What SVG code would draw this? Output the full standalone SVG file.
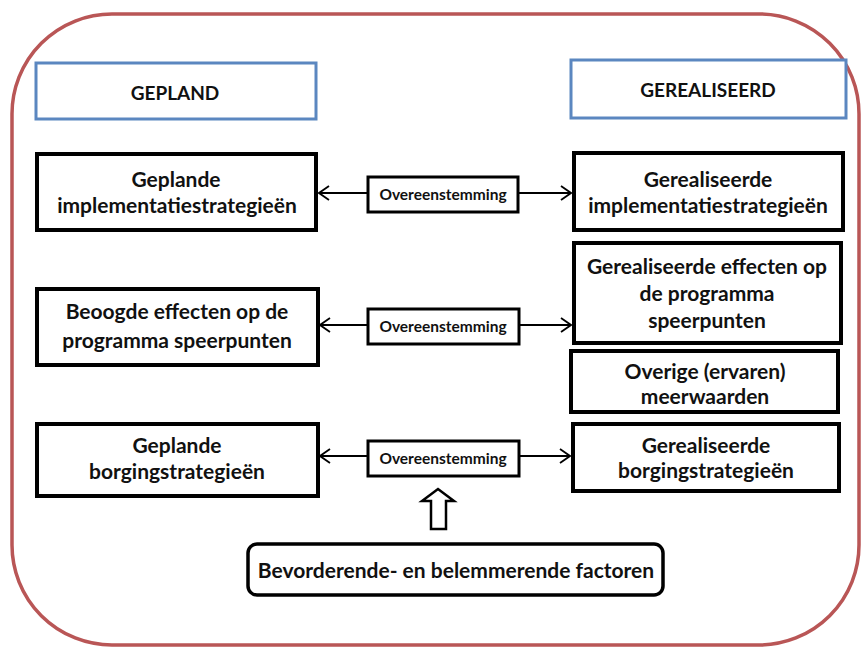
<svg xmlns="http://www.w3.org/2000/svg" width="861" height="648" viewBox="0 0 861 648">
<defs>
<marker id="chev" viewBox="0 0 12 16" refX="11" refY="8" markerWidth="12" markerHeight="16" markerUnits="userSpaceOnUse" orient="auto">
<path d="M1,1 L11,8 L1,15" fill="none" stroke="#000" stroke-width="1.8"/>
</marker>
<style>
.frame{fill:#fff;stroke:#b95656;stroke-width:3.5}
.hdr{fill:#fff;stroke:#5b87c0;stroke-width:3}
.box{fill:#fff;stroke:#000;stroke-width:4}
.ov{fill:#fff;stroke:#000;stroke-width:3}
.t{font-family:Lato,"Liberation Sans",sans-serif;font-weight:bold;font-size:21px;fill:#111;text-anchor:middle}
.th{font-family:Lato,"Liberation Sans",sans-serif;font-weight:bold;font-size:19px;fill:#111;text-anchor:middle}
.ts{font-family:Lato,"Liberation Sans",sans-serif;font-weight:bold;font-size:15.5px;fill:#111;text-anchor:middle}
.c{fill:none;stroke:#000;stroke-width:1.8;marker-end:url(#chev)}
</style>
</defs>
<rect class="frame" x="12" y="14" width="847" height="631" rx="100" ry="100"/>

<g id="gepland">
<rect class="hdr" x="36" y="63" width="280" height="56"/>
<text class="th" x="175" y="100">GEPLAND</text>
</g>
<g id="gerealiseerd">
<rect class="hdr" x="571" y="60" width="275" height="58"/>
<text class="th" x="708" y="97">GEREALISEERD</text>
</g>

<g id="geplande-impl">
<rect class="box" x="37" y="154" width="279" height="76"/>
<text class="t" x="176" y="187">Geplande</text>
<text class="t" x="177" y="213">implementatiestrategieën</text>
</g>
<g id="gerealiseerde-impl">
<rect class="box" x="574" y="153" width="269" height="77"/>
<text class="t" x="708" y="187">Gerealiseerde</text>
<text class="t" x="708" y="213">implementatiestrategieën</text>
</g>
<g id="ov1">
<rect class="ov" x="368" y="177" width="150" height="35"/>
<text class="ts" x="443" y="200">Overeenstemming</text>
</g>

<g id="beoogde">
<rect class="box" x="37" y="289" width="281" height="76"/>
<text class="t" x="177" y="319">Beoogde effecten op de</text>
<text class="t" x="177" y="348">programma speerpunten</text>
</g>
<g id="gerealiseerde-effecten">
<rect class="box" x="574" y="243" width="267" height="100"/>
<text class="t" x="707" y="274">Gerealiseerde effecten op</text>
<text class="t" x="707" y="301">de programma</text>
<text class="t" x="707" y="328">speerpunten</text>
</g>
<g id="overige">
<rect class="box" x="571" y="351" width="267" height="61"/>
<text class="t" x="705" y="379">Overige (ervaren)</text>
<text class="t" x="705" y="404">meerwaarden</text>
</g>
<g id="ov2">
<rect class="ov" x="368" y="309" width="151" height="35"/>
<text class="ts" x="443" y="332">Overeenstemming</text>
</g>

<g id="geplande-borging">
<rect class="box" x="37" y="424" width="281" height="72"/>
<text class="t" x="177" y="453">Geplande</text>
<text class="t" x="177" y="479">borgingstrategieën</text>
</g>
<g id="gerealiseerde-borging">
<rect class="box" x="573" y="424" width="266" height="67"/>
<text class="t" x="706" y="453">Gerealiseerde</text>
<text class="t" x="706" y="478">borgingstrategieën</text>
</g>
<g id="ov3">
<rect class="ov" x="368" y="441" width="151" height="35"/>
<text class="ts" x="443" y="464">Overeenstemming</text>
</g>

<g id="factoren">
<rect x="248" y="544" width="415" height="51" rx="9" ry="9" fill="#fff" stroke="#000" stroke-width="3.5"/>
<text class="t" x="456" y="578">Bevorderende- en belemmerende factoren</text>
</g>

<g id="connectors">
<line class="c" x1="368" y1="193" x2="319" y2="193"/>
<line class="c" x1="518" y1="193" x2="571" y2="193"/>
<line class="c" x1="368" y1="325" x2="320" y2="325"/>
<line class="c" x1="519" y1="325" x2="571" y2="325"/>
<line class="c" x1="368" y1="456" x2="320" y2="456"/>
<line class="c" x1="519" y1="456" x2="570" y2="456"/>
<path d="M431,529 L431,501 L422,501 L438,489 L454,501 L446,501 L446,529 Z" fill="#fff" stroke="#000" stroke-width="2.5" stroke-linejoin="miter"/>
</g>
</svg>
